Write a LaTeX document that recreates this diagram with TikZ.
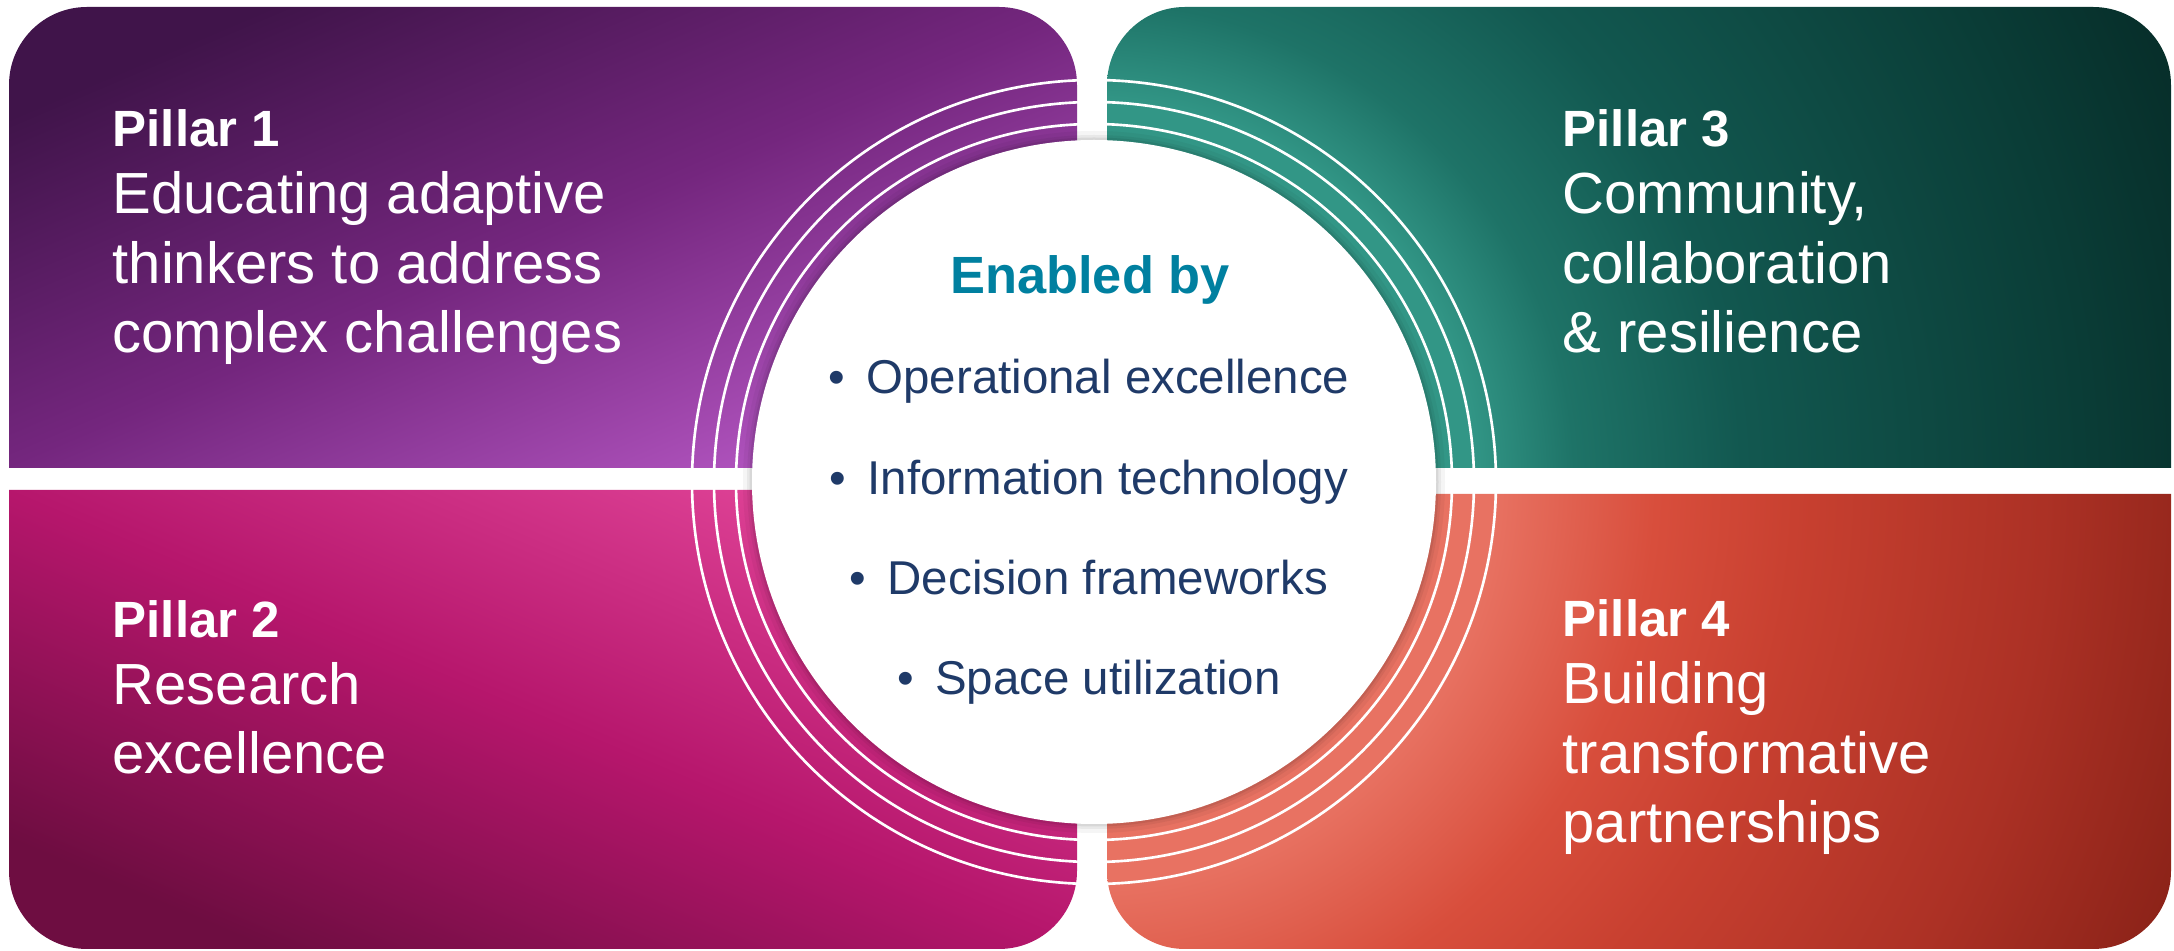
\documentclass[tikz,border=0pt]{standalone}
\usepackage{fontspec}
\setmainfont{Liberation Sans}

\definecolor{purpledark}{RGB}{64,20,74}
\definecolor{purplemid}{RGB}{116,38,126}
\definecolor{purplelight}{RGB}{180,86,194}
\definecolor{magentadark}{RGB}{110,13,65}
\definecolor{magentamid}{RGB}{182,22,108}
\definecolor{magentalight}{RGB}{224,68,152}
\definecolor{teal1}{RGB}{50,150,134}
\definecolor{teal2}{RGB}{30,115,103}
\definecolor{teal3}{RGB}{18,88,80}
\definecolor{teal4}{RGB}{10,60,54}
\definecolor{teal5}{RGB}{6,44,40}
\definecolor{red1}{RGB}{232,114,98}
\definecolor{red2}{RGB}{216,78,60}
\definecolor{red3}{RGB}{200,64,48}
\definecolor{red4}{RGB}{172,49,37}
\definecolor{red5}{RGB}{136,33,23}
\definecolor{enabledblue}{RGB}{0,128,160}
\definecolor{bulletnavy}{RGB}{31,58,104}

% glows around the hub (25bp = 1200px)
\pgfdeclareradialshading{tealglow}{\pgfpoint{0bp}{0bp}}{color(0bp)=(teal1); color(7.9bp)=(teal1);
  color(10bp)=(teal2); color(13.5bp)=(teal3); color(20.8bp)=(teal4); color(24.6bp)=(teal5); color(50bp)=(teal5)}
\pgfdeclareradialshading{redglow}{\pgfpoint{0bp}{0bp}}{color(0bp)=(red1); color(8.3bp)=(red1);
  color(11.7bp)=(red2); color(14.6bp)=(red3); color(19.8bp)=(red4); color(24.6bp)=(red5); color(50bp)=(red5)}

\newcommand{\pillarhead}{\fontsize{14.5}{19.9}\selectfont\bfseries}

\begin{document}
\begin{tikzpicture}[x=0.01cm, y=0.01cm,
  pillartext/.style={anchor=base west, align=left, inner sep=0pt, text=white,
    font=\fontsize{16.5}{19.9}\selectfont},
  ring/.style={draw=white, line width=0.75pt},
  bulletitem/.style={anchor=base, inner sep=0pt, text=bulletnavy,
    font=\fontsize{13.5}{16}\selectfont}]
\fill[white] (0,0) rectangle (2174,951);
\useasboundingbox (0,0) rectangle (2174,951);
\coordinate (hub) at (1094,469);

% Pillars
\shade[top color=purpledark, bottom color=purplelight, middle color=purplemid, shading angle=23]
  (9,483) -- (9,866) arc[start angle=180, end angle=90, radius=78]
  -- (999,944) arc[start angle=90, end angle=0, radius=78] -- (1077,483) -- cycle;
\shade[top color=magentalight, bottom color=magentadark, middle color=magentamid, shading angle=-23]
  (9,461) -- (9,80) arc[start angle=180, end angle=270, radius=78]
  -- (999,2) arc[start angle=270, end angle=360, radius=78] -- (1077,461) -- cycle;
\begin{scope}
  \clip (1107,483) -- (1107,866) arc[start angle=180, end angle=90, radius=78]
    -- (2093,944) arc[start angle=90, end angle=0, radius=78] -- (2171,483) -- cycle;
  \shade[shading=tealglow] (hub) circle (1200);
\end{scope}
\begin{scope}
  \clip (1107,457) -- (1107,80) arc[start angle=180, end angle=270, radius=78]
    -- (2093,2) arc[start angle=270, end angle=360, radius=78] -- (2171,457) -- cycle;
  \shade[shading=redglow] (hub) circle (1200);
\end{scope}

% Rings and hub
\foreach \r in {358,380,402}
  \draw[ring] (hub) circle (\r);
\fill[black, opacity=0.04] (hub) circle (351);
\fill[black, opacity=0.05] (hub) circle (347);
\fill[black, opacity=0.07] (hub) circle (344.5);
\fill[white] (hub) circle (342);

% Pillar texts
\node[pillartext] (p1) at (112,598) {{\pillarhead Pillar 1}\\[-1pt]
  Educating adaptive\\ thinkers to address\\ complex challenges};
\node[pillartext] (p3) at (1562,598) {{\pillarhead Pillar 3}\\[-1pt]
  Community,\\ collaboration\\ \& resilience};
\node[pillartext] (p2) at (112,177) {{\pillarhead Pillar 2}\\[-1pt]
  Research\\ excellence};
\node[pillartext] (p4) at (1562,108) {{\pillarhead Pillar 4}\\[-1pt]
  Building\\ transformative\\ partnerships};

% Enablers
\node[anchor=base, inner sep=0pt, text=enabledblue, font=\fontsize{14.9}{18}\selectfont\bfseries]
  (enabled) at (1090,657) {Enabled by};
\node[bulletitem] (e1) at (1089,557) {\textbullet\hspace{0.45em}Operational excellence};
\node[bulletitem] (e2) at (1089,456) {\textbullet\hspace{0.45em}Information technology};
\node[bulletitem] (e3) at (1089,356) {\textbullet\hspace{0.45em}Decision frameworks};
\node[bulletitem] (e4) at (1089,256) {\textbullet\hspace{0.45em}Space utilization};
\end{tikzpicture}
\end{document}
